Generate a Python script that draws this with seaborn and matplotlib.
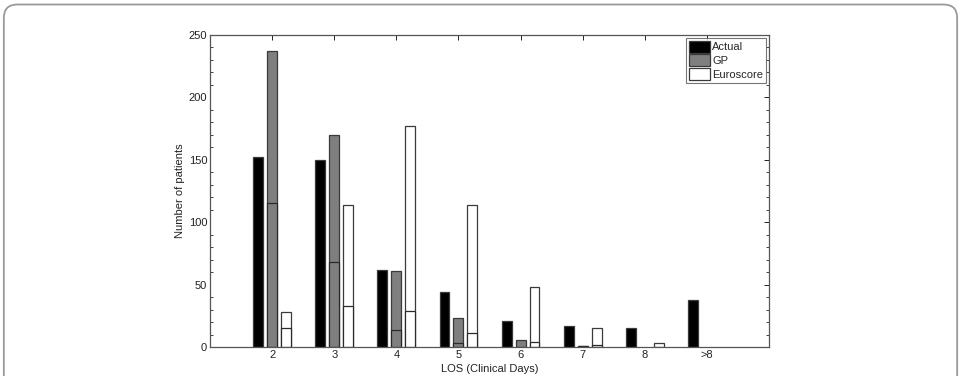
import numpy as np
import pandas as pd
import seaborn as sns
import matplotlib
matplotlib.use("Agg")
import matplotlib.pyplot as plt
from matplotlib.patches import FancyBboxPatch, Patch
from matplotlib.ticker import MultipleLocator

# ---- data ----
categories = ["2", "3", "4", "5", "6", "7", "8", ">8"]
actual = [152, 150, 62, 44, 21, 17, 15, 38]
gp = [237, 170, 61, 23, 6, 1, 0, 0]
euroscore = [28, 114, 177, 114, 48, 15, 3, 0]
# inner (overlaid) bars
gp_inner = [115, 68, 14, 3, 0, 1, 0, 0]
euroscore_inner = [15, 33, 29, 11, 4, 2, 0, 0]

models = ["Actual", "GP", "Euroscore"]
colors = {"Actual": "#000000", "GP": "#7f7f7f", "Euroscore": "#ffffff"}

df = pd.DataFrame({
    "LOS": categories * 3,
    "count": actual + gp + euroscore,
    "model": ["Actual"] * 8 + ["GP"] * 8 + ["Euroscore"] * 8,
})
df_inner = pd.DataFrame({
    "LOS": categories * 2,
    "count": gp_inner + euroscore_inner,
    "model": ["GP"] * 8 + ["Euroscore"] * 8,
})

sns.set_theme(style="white")
plt.rcParams["font.family"] = ["Liberation Sans", "DejaVu Sans"]

fig = plt.figure(figsize=(9.61, 3.76), dpi=100)
ax = fig.add_axes([210 / 961, 1 - 347 / 376, (769 - 210) / 961, (347 - 35) / 376])

sns.barplot(data=df, x="LOS", y="count", hue="model", order=categories,
            hue_order=models, palette=colors, saturation=1, errorbar=None,
            width=0.675, gap=0.29, edgecolor="#3a3a3a", linewidth=0.9, ax=ax)
leg = ax.get_legend()
handles = [Patch(facecolor=colors[m], edgecolor="#3a3a3a", linewidth=0.9) for m in models]
if leg is not None:
    leg.remove()

sns.barplot(data=df_inner, x="LOS", y="count", hue="model", order=categories,
            hue_order=models, palette=colors, saturation=1, errorbar=None,
            width=0.675, gap=0.29, edgecolor="#2a2a2a", linewidth=0.9,
            legend=False, ax=ax)

# hide empty (zero-height) bars so no stray outline sits on the axis
for p in ax.patches:
    if p.get_height() == 0:
        p.set_visible(False)

ax.set_xlim(-1, 8)
ax.set_ylim(0, 250)
ax.yaxis.set_major_locator(MultipleLocator(50))
ax.yaxis.set_minor_locator(MultipleLocator(10))
ax.tick_params(axis="both", which="both", direction="in", top=True, right=True,
               labelsize=8, colors="#222222", pad=2)
ax.tick_params(axis="y", which="major", length=3.5, width=0.7)
ax.tick_params(axis="y", which="minor", length=2, width=0.6, left=True, right=True)
ax.tick_params(axis="x", which="major", length=3.5, width=0.7)
for s in ax.spines.values():
    s.set_color("#555555")
    s.set_linewidth(0.9)

ax.set_xlabel("LOS (Clinical Days)", fontsize=8, labelpad=3, color="#222222")
ax.set_ylabel("Number of patients", fontsize=8, labelpad=3, color="#222222")

lg = ax.legend(handles, models, loc="upper right", fontsize=8, frameon=True,
               fancybox=False, edgecolor="#555555", handlelength=1.9,
               handleheight=1.3, handletextpad=0.2, labelspacing=0.15,
               borderpad=0.25, borderaxespad=0.25)
lg.get_frame().set_linewidth(0.8)

# rounded outer frame of the figure
frame = FancyBboxPatch((0.004, -0.1), 0.992, 1.088, boxstyle="round,pad=0,rounding_size=0.014",
                       transform=fig.transFigure, facecolor="none",
                       edgecolor="#9a9a9a", linewidth=1.3, mutation_aspect=961 / 376)
fig.patches.append(frame)

fig.savefig("out.png", dpi=100)
